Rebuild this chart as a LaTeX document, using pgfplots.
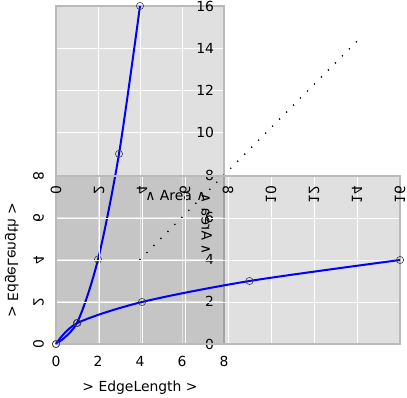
\documentclass[border=0pt]{standalone}
\usepackage{fontspec}
\setmainfont{DejaVu Sans}
\usepackage{pgfplots}
\pgfplotsset{compat=1.18}
\pgfplotsset{
  mystyle/.style={
    scale only axis,
    width=168pt, height=338pt,
    at={(0pt,0pt)}, anchor=south west,
    xmin=0, xmax=8, ymin=0, ymax=16,
    xtick={0,2,4,6,8},
    ytick={0,2,...,16},
    grid=major,
    major grid style={white, line width=0.9pt},
    axis background/.style={fill=black, fill opacity=0.12},
    axis line style={draw=black!27, line width=1.3pt},
    major tick length=0pt,
    /pgf/number format/assume math mode=true,
    tick label style={font=\fontsize{13.9}{16}\selectfont, text=black},
    xticklabel style={yshift=-8.4pt},
    yticklabel style={anchor=east, xshift=161.6pt},
    xlabel={> EdgeLength >},
    ylabel={∧ Area ∧},
    every axis x label/.style={at={(axis description cs:0.5,0)}, anchor=center, yshift=-43.5pt, font=\fontsize{13.9}{16}\selectfont},
    every axis y label/.style={at={(axis description cs:0.714,0.438)}, anchor=center, font=\fontsize{13.9}{16}\selectfont},
    clip=false,
  }
}
\begin{document}
\begin{tikzpicture}
\begin{axis}[mystyle]
  \addplot[blue, line width=2pt, smooth] coordinates {(0,0) (1,1) (2,4) (3,9) (4,16)};
  \addplot[only marks, mark=o, mark size=3.6pt, black!75, line width=0.6pt] coordinates {(0,0) (1,1) (2,4) (3,9) (4,16)};
  \addplot[black, line width=1.9pt, line cap=round, dash pattern=on 0pt off 9.9pt] coordinates {(4,4) (14.5,14.5)};
\end{axis}
\begin{scope}[transform canvas={cm={0,1,1.0178,0,(0pt,0pt)}}]
\begin{axis}[mystyle]
  \addplot[blue, line width=2pt, smooth] coordinates {(0,0) (1,1) (2,4) (3,9) (4,16)};
  \addplot[only marks, mark=o, mark size=3.6pt, black!75, line width=0.6pt] coordinates {(0,0) (1,1) (2,4) (3,9) (4,16)};
\end{axis}
\end{scope}
\pgfresetboundingbox
\path[use as bounding box] (-56pt,-53pt) rectangle (351pt,344pt);
\end{tikzpicture}
\end{document}
